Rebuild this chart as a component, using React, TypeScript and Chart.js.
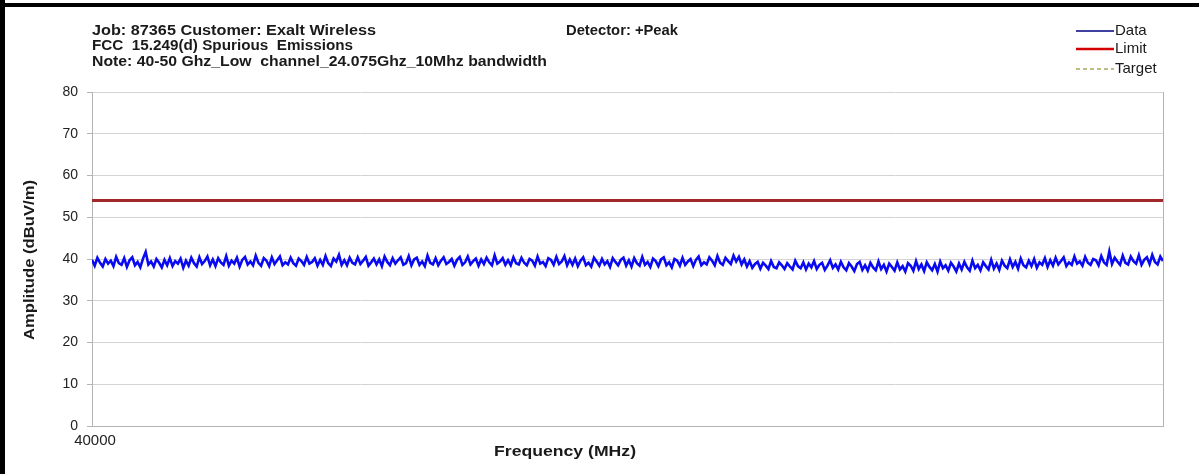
import React, { useEffect, useRef } from 'react';
import { Chart, registerables } from 'chart.js';

Chart.register(...registerables);

// ---------- data ----------
const freqStart = 40000;
const freqEnd = 50000;

const dataValues: number[] = [
  39.8, 38.4, 40.3, 39.1, 38.2, 40.0, 38.9, 39.6, 38.3, 40.5, 39.0, 38.6, 40.2, 38.1, 39.7, 40.4, 38.5, 39.3, 38.0, 40.1,
  41.7, 38.7, 39.4, 38.2, 40.0, 39.1, 38.0, 39.8, 38.5, 40.2, 38.3, 39.5, 38.9, 40.1, 37.9, 39.6, 38.4, 40.3, 39.0, 38.2,
  40.4, 38.8, 39.5, 40.6, 38.5, 39.9, 38.3, 40.2, 39.2, 38.6, 40.7, 38.4, 39.6, 38.9, 40.3, 38.2, 39.8, 40.5, 38.7, 39.4,
  38.5, 40.8, 39.1, 38.4, 40.2, 39.6, 38.3, 40.4, 38.8, 39.7, 40.6, 38.5, 39.2, 38.7, 40.3, 39.0, 38.4, 40.1, 39.5, 38.6,
  40.5, 38.9, 39.3, 40.2, 38.4, 39.8, 38.6, 40.7, 39.0, 38.3, 40.1, 39.4, 41.0, 38.6, 39.7, 38.5, 40.3, 39.1, 38.7, 40.4,
  38.8, 39.6, 40.5, 38.4, 39.2, 40.1, 38.7, 39.9, 38.3, 40.6, 39.3, 38.5, 40.2, 38.9, 39.7, 40.4, 38.6, 39.0, 40.7, 38.5,
  39.9, 40.3, 38.6, 39.4, 38.3, 40.8, 39.1, 38.7, 40.2, 38.5, 39.6, 40.4, 38.8, 39.3, 40.0, 38.4, 39.8, 40.5, 38.6, 39.2,
  40.6, 38.7, 39.5, 40.1, 38.4, 39.9, 38.8, 40.3, 39.2, 38.5, 40.9, 38.9, 39.4, 40.2, 38.6, 39.7, 38.5, 40.4, 39.0, 38.7,
  40.3, 39.1, 38.5, 40.0, 39.6, 38.4, 40.6, 38.9, 39.3, 38.3, 40.2, 39.8, 38.6, 40.5, 38.8, 39.4, 40.7, 38.5, 39.9, 38.6,
  40.1, 38.3, 39.6, 40.4, 38.5, 39.1, 38.2, 40.3, 39.4, 38.4, 40.0, 38.7, 39.5, 38.1, 40.2, 39.3, 38.5, 39.8, 40.3, 38.4,
  39.7, 38.2, 40.2, 39.0, 38.4, 40.5, 38.6, 39.3, 38.1, 40.1, 39.5, 38.3, 39.9, 40.4, 38.5, 39.2, 38.0, 40.0, 39.6, 38.4,
  40.3, 38.6, 39.4, 40.0, 38.3, 39.8, 40.6, 38.5, 39.2, 38.7, 40.4, 39.6, 38.5, 40.7, 39.1, 38.6, 40.3, 39.5, 38.8, 40.8,
  39.4, 40.5, 38.7, 39.9, 38.2, 39.5, 37.9, 38.8, 39.3, 37.7, 39.1, 38.4, 37.6, 39.5, 38.1, 37.8, 39.2, 38.5, 37.6, 39.0,
  38.2, 37.5, 39.6, 38.3, 37.8, 39.2, 37.5, 38.9, 38.0, 39.5, 37.6, 38.6, 39.1, 37.4, 38.4, 39.7, 37.9, 38.7, 37.5, 39.3,
  38.0, 37.3, 39.0, 38.2, 37.1, 38.8, 39.3, 37.4, 38.5, 37.2, 39.1, 38.0, 37.3, 39.4, 37.6, 38.6, 37.0, 38.9, 38.1, 37.2,
  39.2, 37.5, 38.3, 37.0, 39.0, 38.4, 37.2, 39.5, 37.6, 38.7, 37.1, 39.2, 38.1, 37.3, 38.8, 37.0, 39.4, 37.8, 38.5, 37.2,
  39.1, 38.2, 37.0, 38.9, 37.5, 39.3, 38.0, 37.2, 39.6, 37.8, 38.6, 37.3, 39.2, 38.3, 37.5, 39.8, 37.7, 38.9, 37.4, 39.6,
  38.4, 37.8, 39.9, 38.1, 39.3, 37.7, 40.1, 38.5, 38.0, 39.6, 38.3, 40.0, 37.9, 39.2, 38.6, 40.2, 38.1, 39.7, 38.4, 40.3,
  38.7, 39.5, 40.4, 38.3, 39.2, 38.6, 40.6, 38.9, 39.4, 38.4, 40.5, 39.1, 38.6, 40.0, 39.7, 38.5, 40.7, 39.2, 38.6, 41.8,
  38.8, 40.3, 39.4, 38.6, 40.8, 39.1, 38.7, 40.6, 39.5, 38.9, 40.9, 38.6, 39.8, 40.4, 38.8, 41.0, 39.3, 38.7, 40.6, 39.5,
];

const limitFreqs: number[] = [40000, 50000];
const limitValues: number[] = [54, 54];
const targetValues: number[] = [];

const yMin = 0;
const yMax = 80;
const yStep = 10;
const xTickLabels: string[] = ['40000'];

const headerLines: string[] = [
  'Job: 87365 Customer: Exalt Wireless',
  'FCC  15.249(d) Spurious  Emissions',
  'Note: 40-50 Ghz_Low  channel_24.075Ghz_10Mhz bandwidth',
];
const detectorText = 'Detector: +Peak';
const legendLabels: string[] = ['Data', 'Limit', 'Target'];
const xTitle = 'Frequency (MHz)';
const yTitle = 'Amplitude (dBuV/m)';

const FONT = '"Liberation Sans", Arial, sans-serif';

function fitText(ctx: CanvasRenderingContext2D, text: string, x: number, y: number, width: number) {
  const w = ctx.measureText(text).width;
  ctx.save();
  ctx.translate(x, y);
  ctx.scale(width / w, 1);
  ctx.fillText(text, 0, 0);
  ctx.restore();
}

const decorPlugin = {
  id: 'decor',
  afterDraw(chart: any) {
    const ctx = chart.ctx as CanvasRenderingContext2D;
    const area = chart.chartArea;
    ctx.save();
    // right border of plot area
    ctx.strokeStyle = '#b4b4b4';
    ctx.lineWidth = 1;
    ctx.beginPath();
    ctx.moveTo(Math.round(area.right) + 0.5, area.top);
    ctx.lineTo(Math.round(area.right) + 0.5, area.bottom);
    ctx.stroke();

    // header
    ctx.fillStyle = '#1a1a1a';
    ctx.font = `bold 14px ${FONT}`;
    ctx.textBaseline = 'middle';
    ctx.textAlign = 'left';
    const widths = [284, 261, 455];
    headerLines.forEach((t, i) => fitText(ctx, t, 92, 31 + i * 15.5, widths[i]));
    fitText(ctx, detectorText, 566, 31, 112);

    // legend
    const lx0 = 1076;
    const lx1 = 1114;
    const ys = [31, 49, 69];
    const styles = [
      { color: '#000080', width: 1.5, dash: [] as number[] },
      { color: '#d40000', width: 2.5, dash: [] as number[] },
      { color: '#a8a860', width: 1.5, dash: [4, 3] },
    ];
    legendLabels.forEach((lab, i) => {
      const s = styles[i];
      ctx.strokeStyle = s.color;
      ctx.lineWidth = s.width;
      ctx.setLineDash(s.dash);
      ctx.beginPath();
      ctx.moveTo(lx0, ys[i]);
      ctx.lineTo(lx1, ys[i]);
      ctx.stroke();
      ctx.setLineDash([]);
      ctx.fillStyle = '#1a1a1a';
      ctx.font = `15px ${FONT}`;
      ctx.fillText(lab, lx1 + 1, ys[i]);
    });

    // axis titles
    ctx.font = `bold 15px ${FONT}`;
    ctx.textAlign = 'left';
    fitText(ctx, xTitle, 494, 452, 142);
    ctx.save();
    ctx.translate(30, 340);
    ctx.rotate(-Math.PI / 2);
    fitText(ctx, yTitle, 0, 0, 160);
    ctx.restore();
    ctx.restore();
  },
};

export default function App() {
  const ref = useRef<HTMLCanvasElement | null>(null);
  useEffect(() => {
    if (!ref.current) return;
    const step = (freqEnd - freqStart) / (dataValues.length - 1);
    const dataPts = dataValues.map((v, i) => ({ x: freqStart + i * step, y: v }));
    const limitPts = limitValues.map((v, i) => ({ x: limitFreqs[i], y: v }));
    const targetPts = targetValues.map((v, i) => ({ x: limitFreqs[i], y: v }));
    const chart = new Chart(ref.current, {
      type: 'line',
      data: {
        datasets: [
          {
            label: legendLabels[1],
            data: limitPts,
            borderColor: '#a0282c',
            borderWidth: 3,
            pointRadius: 0,
          },
          {
            label: legendLabels[0],
            data: dataPts,
            borderColor: '#0a0af0',
            borderWidth: 2.6,
            pointRadius: 0,
            tension: 0,
          },
          {
            label: legendLabels[2],
            data: targetPts,
            borderColor: '#a8a860',
            borderDash: [4, 3],
            borderWidth: 1.5,
            pointRadius: 0,
          },
        ],
      },
      options: {
        animation: false,
        responsive: false,
        maintainAspectRatio: false,
        layout: { padding: { top: 92, right: 36, left: 0, bottom: 0 } },
        plugins: { legend: { display: false }, tooltip: { enabled: false } },
        scales: {
          x: {
            type: 'linear',
            min: freqStart,
            max: freqEnd,
            afterFit: (s: any) => {
              s.height = 48;
            },
            afterBuildTicks: (s: any) => {
              s.ticks = xTickLabels.map((l) => ({ value: Number(l) }));
            },
            grid: { display: false, drawTicks: false },
            border: { display: true, color: '#b4b4b4' },
            ticks: {
              padding: 6,
              labelOffset: 3,
              color: '#222',
              font: { family: FONT, size: 15 },
              maxRotation: 0,
              callback: (v: any) => String(v),
            },
          },
          y: {
            min: yMin,
            max: yMax,
            afterFit: (s: any) => {
              s.width = 92;
            },
            grid: { color: '#d4d4d4', tickLength: 5, tickColor: '#b4b4b4' },
            border: { display: true, color: '#b4b4b4' },
            ticks: {
              stepSize: yStep,
              padding: 9,
              color: '#222',
              font: { family: FONT, size: 14 },
            },
          },
        },
      },
      plugins: [decorPlugin],
    });
    return () => chart.destroy();
  }, []);

  return (
    <div style={{ position: 'absolute', left: 0, top: 0, width: 1199, height: 474, background: '#fff' }}>
      <canvas ref={ref} width={1199} height={474} style={{ display: 'block' }} />
      <div style={{ position: 'absolute', left: 0, top: 0, width: 5, height: 474, background: '#000' }} />
      <div style={{ position: 'absolute', left: 0, top: 3, width: 1199, height: 4, background: '#000' }} />
    </div>
  );
}
